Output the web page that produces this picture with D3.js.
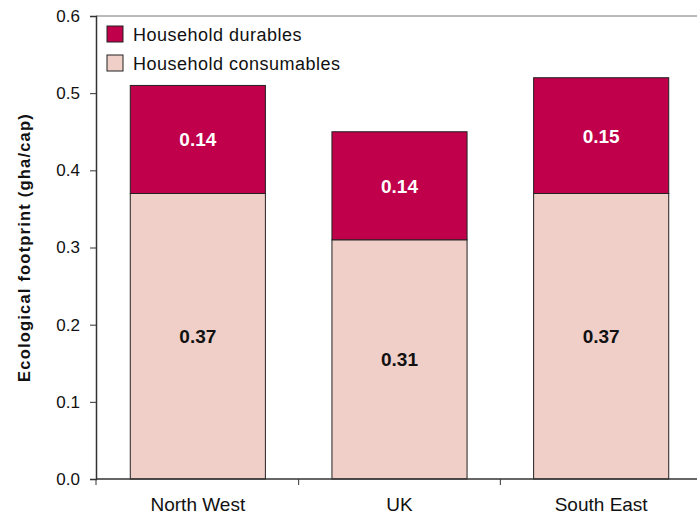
<!DOCTYPE html>
<html><head><meta charset="utf-8">
<script src="https://cdn.jsdelivr.net/npm/d3@7"></script>
<style>body{margin:0;background:#fff;} svg{display:block;}</style>
</head><body>
<svg id="chart" width="697" height="517"></svg>
<script>
const categories = ["North West", "UK", "South East"];
const consumables = [0.37, 0.31, 0.37];
const durables = [0.14, 0.14, 0.15];
const yTicks = [0, 0.1, 0.2, 0.3, 0.4, 0.5, 0.6];
const seriesNames = ["Household durables", "Household consumables"];
const colors = {durables: "#C0004A", consumables: "#EFCFC8"};

const svg = d3.select("#chart");
const W = 697, H = 517;
const m = {l: 96, t: 16, b: 38};
const x = d3.scaleBand().domain(categories).range([97, 702]).paddingInner(0.33).paddingOuter(0.165);
const y = d3.scaleLinear().domain([0, 0.6]).range([H - m.b, m.t]);
const narrow = "'Liberation Sans Narrow', 'Arial Narrow', 'Liberation Sans', Arial, sans-serif";
const sans = "'Liberation Sans', Arial, Helvetica, sans-serif";

// top border
svg.append("line").attr("x1", m.l).attr("x2", W).attr("y1", y(0.6)).attr("y2", y(0.6))
  .attr("stroke", "#777").attr("stroke-width", 1);

const data = categories.map((c, i) => ({c, cons: consumables[i], dur: durables[i]}));
const g = svg.append("g");
g.selectAll("rect.cons").data(data).join("rect")
  .attr("x", d => x(d.c)).attr("width", x.bandwidth())
  .attr("y", d => y(d.cons)).attr("height", d => y(0) - y(d.cons))
  .attr("fill", colors.consumables).attr("stroke", "#222").attr("stroke-width", 1);
g.selectAll("rect.dur").data(data).join("rect")
  .attr("x", d => x(d.c)).attr("width", x.bandwidth())
  .attr("y", d => y(d.cons + d.dur)).attr("height", d => y(d.cons) - y(d.cons + d.dur))
  .attr("fill", colors.durables).attr("stroke", "#222").attr("stroke-width", 1);

g.selectAll("text.cl").data(data).join("text")
  .attr("x", d => x(d.c) + x.bandwidth() / 2).attr("y", d => y(d.cons / 2) + 7)
  .attr("text-anchor", "middle").attr("font-family", narrow).attr("font-weight", "bold")
  .attr("font-size", 19).attr("fill", "#111").text(d => d3.format(".2f")(d.cons));
g.selectAll("text.dl").data(data).join("text")
  .attr("x", d => x(d.c) + x.bandwidth() / 2).attr("y", d => y(d.cons + d.dur / 2) + 7)
  .attr("text-anchor", "middle").attr("font-family", narrow).attr("font-weight", "bold")
  .attr("font-size", 19).attr("fill", "#fff").text(d => d3.format(".2f")(d.dur));

// y axis
const ya = svg.append("g").attr("transform", `translate(${m.l},0)`)
  .call(d3.axisLeft(y).tickValues(yTicks).tickFormat(d3.format(".1f")).tickSize(6).tickPadding(10));
ya.select(".domain").attr("stroke", "#333").attr("stroke-width", 1.5);
ya.selectAll(".tick line").attr("stroke", "#333");
ya.selectAll("text").attr("font-family", sans).attr("font-size", 17).attr("fill", "#111");

// x axis
const xa = svg.append("g").attr("transform", `translate(0,${y(0)})`)
  .call(d3.axisBottom(x).tickSize(0).tickPadding(19));
xa.select(".domain").attr("stroke", "#333").attr("stroke-width", 1.5).attr("d", `M${m.l},0H${W}`);
xa.selectAll("text").attr("font-family", narrow).attr("font-size", 19).attr("fill", "#111");
// category separator ticks
const sepX = [m.l, ...categories.slice(1).map(c => x(c) - x.step() * x.paddingInner() / 2)];
svg.selectAll("line.sep").data(sepX).join("line")
  .attr("x1", d => d).attr("x2", d => d).attr("y1", y(0)).attr("y2", y(0) + 6)
  .attr("stroke", "#333").attr("stroke-width", 1);

// y title
svg.append("text").attr("transform", `translate(30,${(y(0) + y(0.6)) / 2}) rotate(-90)`)
  .attr("text-anchor", "middle").attr("font-family", sans).attr("font-weight", "bold")
  .attr("font-size", 16.5).attr("letter-spacing", 1.2).attr("fill", "#111").text("Ecological footprint (gha/cap)");

// legend
const legColors = [colors.durables, colors.consumables];
const leg = svg.append("g");
seriesNames.forEach((n, i) => {
  leg.append("rect").attr("x", 107).attr("y", 26 + i * 29).attr("width", 16).attr("height", 16)
    .attr("fill", legColors[i]).attr("stroke", "#222").attr("stroke-width", 1);
  leg.append("text").attr("x", 133).attr("y", 41 + i * 29).attr("font-family", sans)
    .attr("font-size", 18).attr("letter-spacing", 0.5).attr("fill", "#111").text(n);
});
</script>
</body></html>
